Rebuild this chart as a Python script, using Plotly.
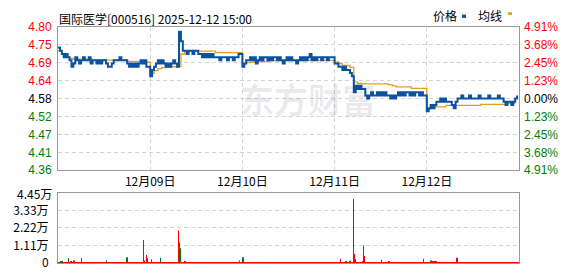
import plotly.graph_objects as go

# ---------------- data ----------------
title_text = "国际医学[000516] 2025-12-12 15:00"
day_labels = ["12月09日", "12月10日", "12月11日", "12月12日"]
prev_close = 4.58
max_pct = 4.91
price_tick_labels = ["4.80", "4.75", "4.69", "4.64", "4.58", "4.52", "4.47", "4.41", "4.36"]
pct_tick_labels = ["4.91%", "3.68%", "2.45%", "1.23%", "0.00%", "1.23%", "2.45%", "3.68%", "4.91%"]
vol_tick_values = [33375, 22250, 11125, 0]
vol_tick_labels = ["3.33万", "2.22万", "1.11万", "0"]
vol_max = 44500
vol_max_label = "4.45万"

minutes_per_day = 240
price_step = 5     # minutes per price sample
avg_step = 10      # minutes per average sample

# price, 5-minute samples, one list per trading day (12-08 .. 12-12)
price_d1 = [4.74, 4.73, 4.72, 4.71, 4.72, 4.71, 4.70, 4.68, 4.69, 4.71, 4.70, 4.69,
            4.70, 4.71, 4.70, 4.70, 4.71, 4.69, 4.70, 4.70, 4.69, 4.70, 4.69, 4.70,
            4.70, 4.69, 4.68, 4.68, 4.69, 4.70, 4.70, 4.70, 4.71, 4.70, 4.70, 4.70,
            4.69, 4.68, 4.69, 4.68, 4.69, 4.68, 4.69, 4.70, 4.69, 4.70, 4.68, 4.68]
price_d2 = [4.65, 4.67, 4.68, 4.69, 4.70, 4.69, 4.70, 4.69, 4.68, 4.69, 4.68, 4.69,
            4.70, 4.69, 4.68, 4.79, 4.76, 4.73, 4.73, 4.72, 4.73, 4.73, 4.72, 4.73,
            4.73, 4.72, 4.72, 4.71, 4.72, 4.71, 4.72, 4.71, 4.72, 4.71, 4.71, 4.71,
            4.70, 4.71, 4.71, 4.71, 4.70, 4.71, 4.71, 4.70, 4.71, 4.71, 4.72, 4.72]
price_d3 = [4.68, 4.69, 4.70, 4.70, 4.71, 4.70, 4.71, 4.69, 4.70, 4.71, 4.70, 4.71,
            4.71, 4.70, 4.71, 4.70, 4.71, 4.71, 4.70, 4.71, 4.70, 4.69, 4.70, 4.71,
            4.70, 4.71, 4.70, 4.70, 4.69, 4.70, 4.71, 4.70, 4.71, 4.70, 4.71, 4.72,
            4.70, 4.71, 4.70, 4.71, 4.71, 4.70, 4.71, 4.71, 4.70, 4.71, 4.71, 4.71]
price_d4 = [4.69, 4.69, 4.68, 4.68, 4.67, 4.68, 4.67, 4.67, 4.66, 4.65, 4.60, 4.62,
            4.61, 4.62, 4.61, 4.61, 4.59, 4.58, 4.59, 4.60, 4.59, 4.59, 4.60, 4.59,
            4.60, 4.59, 4.60, 4.59, 4.59, 4.58, 4.59, 4.58, 4.59, 4.60, 4.59, 4.60,
            4.59, 4.60, 4.60, 4.59, 4.60, 4.59, 4.60, 4.60, 4.59, 4.60, 4.59, 4.59]
price_d5 = [4.54, 4.55, 4.56, 4.55, 4.56, 4.57, 4.57, 4.58, 4.57, 4.58, 4.57, 4.57,
            4.57, 4.56, 4.55, 4.57, 4.58, 4.58, 4.59, 4.58, 4.58, 4.58, 4.59, 4.58,
            4.58, 4.58, 4.58, 4.59, 4.58, 4.58, 4.58, 4.58, 4.59, 4.58, 4.58, 4.58,
            4.58, 4.59, 4.58, 4.58, 4.57, 4.56, 4.57, 4.57, 4.56, 4.57, 4.58, 4.59]

# average price line, 10-minute samples
avg_d1 = [4.730, 4.720, 4.710, 4.706, 4.704, 4.704, 4.704, 4.704, 4.703, 4.701, 4.701, 4.701,
          4.701, 4.701, 4.701, 4.701, 4.701, 4.701, 4.697, 4.697, 4.697, 4.697, 4.697, 4.694]
avg_d2 = [4.659, 4.668, 4.674, 4.677, 4.679, 4.680, 4.680, 4.681, 4.720, 4.729, 4.729, 4.729,
          4.729, 4.729, 4.729, 4.729, 4.729, 4.724, 4.724, 4.724, 4.724, 4.724, 4.724, 4.724]
avg_d3 = [4.690, 4.693, 4.694, 4.694, 4.696, 4.696, 4.696, 4.699, 4.699, 4.699, 4.699, 4.699,
          4.699, 4.699, 4.699, 4.699, 4.699, 4.700, 4.700, 4.700, 4.700, 4.700, 4.700, 4.700]
avg_d4 = [4.695, 4.690, 4.684, 4.684, 4.678, 4.632, 4.628, 4.626, 4.626, 4.626, 4.626, 4.626,
          4.626, 4.626, 4.624, 4.620, 4.617, 4.617, 4.617, 4.617, 4.612, 4.612, 4.612, 4.612]
avg_d5 = [4.547, 4.554, 4.554, 4.554, 4.554, 4.559, 4.559, 4.559, 4.559, 4.559, 4.559, 4.559,
          4.559, 4.559, 4.562, 4.562, 4.562, 4.562, 4.562, 4.562, 4.562, 4.565, 4.565, 4.565]

# per-minute volume: notable bars (minute index from first open, shares, up=red)
vol_spike_minute = [8, 12, 27, 34, 42, 61, 127, 180, 222, 225, 230, 232, 244, 267,
                    313, 316, 318, 331, 472, 480, 482,
                    735, 750, 758, 761, 769, 771, 774, 792, 796, 797, 842, 862,
                    951, 969, 972, 976, 979, 984, 1039]
vol_spike_value = [1000, 800, 3000, 800, 1500, 3000, 1500, 3600, 14570, 1500, 5000, 2900, 2300, 3300,
                   20640, 12900, 9300, 600, 1500, 1000, 3600,
                   2600, 800, 800, 1500, 40860, 5600, 2500, 800, 11100, 4400, 2000, 800,
                   2600, 1500, 1500, 800, 800, 800, 3300]
vol_spike_up = [False, False, False, True, True, False, False, False, False, True, True, True, False, False,
                True, True, False, True, True, True, False,
                True, False, True, False, False, True, True, True, False, True, True, True,
                False, False, False, True, True, True, True]
vol_base = 150  # the thin baseline of tiny minute volumes

# ---------------- build series ----------------
price_days = [price_d1, price_d2, price_d3, price_d4, price_d5]
avg_days = [avg_d1, avg_d2, avg_d3, avg_d4, avg_d5]
n_days = len(price_days)
total_minutes = n_days * minutes_per_day

px_x, px_y = [], []
for d, day in enumerate(price_days):
    for k, v in enumerate(day):
        px_x.append(d * minutes_per_day + k * price_step)
        px_y.append(v)

av_x, av_y = [], []
for d, day in enumerate(avg_days):
    for k, v in enumerate(day):
        av_x.append(d * minutes_per_day + k * avg_step)
        av_y.append(v)

RED = "#ff0000"
GREEN = "#008000"
# baseline (red) trace + spike traces drawn on top
base_x = [m for m in range(total_minutes) if m not in vol_spike_minute]
base_y = [vol_base] * len(base_x)
red_x = [m for m, up in zip(vol_spike_minute, vol_spike_up) if up]
red_y = [v for v, up in zip(vol_spike_value, vol_spike_up) if up]
grn_x = [m for m, up in zip(vol_spike_minute, vol_spike_up) if not up]
grn_y = [v for v, up in zip(vol_spike_value, vol_spike_up) if not up]

# ---------------- figure ----------------
W, H = 578, 276
def px2x(p):
    return p / W
def px2y(p):
    return 1 - p / H

lo = prev_close * (1 - max_pct / 100)
hi = prev_close * (1 + max_pct / 100)
pct_vals = [max_pct * i / 4 for i in range(4, -5, -1)]
price_vals = [prev_close * (1 + p / 100) for p in pct_vals]

def colored(labels):
    out = []
    for i, t in enumerate(labels):
        c = RED if i < 4 else ("#000000" if i == 4 else GREEN)
        out.append('<span style="color:%s">%s</span>' % (c, t))
    return out

FONT = "Liberation Sans, Arial, sans-serif"
CJK = "SimSun, Noto Sans CJK SC, sans-serif"
GRID = "#d4d4d4"
BORDER = "#999999"
DASH = "4px,3px"

fig = go.Figure()
fig.add_trace(go.Scatter(x=av_x, y=av_y, mode="lines", xaxis="x", yaxis="y",
                         line=dict(color="#e0a020", width=1.3, shape="hv"),
                         hoverinfo="skip", showlegend=False))
fig.add_trace(go.Scatter(x=px_x, y=px_y, mode="lines", xaxis="x", yaxis="y",
                         line=dict(color="#0b52a0", width=2, shape="hv"),
                         showlegend=False))
fig.add_trace(go.Scatter(x=[0, total_minutes], y=[0, 0], mode="lines", xaxis="x", yaxis="y2",
                         line=dict(width=0), opacity=0, hoverinfo="skip", showlegend=False))
for bx, by, bc in [(base_x, base_y, RED), (red_x, red_y, RED), (grn_x, grn_y, GREEN)]:
    fig.add_trace(go.Bar(x=bx, y=by, xaxis="x2", yaxis="y3", width=1,
                         marker=dict(color=bc, line=dict(width=0)), showlegend=False))

xdom = [px2x(58), px2x(519)]
fig.update_layout(
    width=W, height=H, margin=dict(l=0, r=0, t=0, b=0),
    paper_bgcolor="white", plot_bgcolor="white", barmode="overlay",
    font=dict(family=FONT, size=12, color="#000000"),
    xaxis=dict(domain=xdom, anchor="y", range=[0, total_minutes],
               tickvals=[minutes_per_day * i for i in range(1, n_days)],
               ticktext=day_labels, tickfont=dict(family=CJK, size=12),
               showgrid=True, gridcolor=GRID, griddash=DASH, gridwidth=1,
               showline=True, mirror=True, linecolor=BORDER, linewidth=1,
               ticks="", zeroline=False, fixedrange=True),
    yaxis=dict(domain=[px2y(172), px2y(21)], anchor="x", range=[lo, hi],
               tickvals=price_vals, ticktext=colored(price_tick_labels),
               showgrid=True, gridcolor=GRID, griddash=DASH, gridwidth=1,
               showline=True, mirror=True, linecolor=BORDER, linewidth=1,
               ticks="", zeroline=False, ticklabelstandoff=3),
    yaxis2=dict(overlaying="y", side="right", anchor="x", range=[-max_pct, max_pct],
                tickvals=pct_vals, ticktext=colored(pct_tick_labels),
                showgrid=False, showline=False, zeroline=False, ticks="",
                ticklabelstandoff=4),
    xaxis2=dict(domain=xdom, anchor="y3", range=[0, total_minutes],
                showticklabels=False, showgrid=False, ticks="",
                showline=True, mirror=True, linecolor=BORDER, linewidth=1,
                zeroline=False, layer="below traces"),
    yaxis3=dict(domain=[px2y(269.5), px2y(196)], anchor="x2", range=[0, vol_max],
                tickvals=vol_tick_values, ticktext=vol_tick_labels,
                showgrid=True, gridcolor=GRID, griddash=DASH, gridwidth=1,
                showline=True, mirror=True, linecolor=BORDER, linewidth=1,
                ticks="", zeroline=False, ticklabelstandoff=6,
                tickfont=dict(family=CJK, size=12), layer="below traces"),
)

ann = [
    dict(text=title_text, x=px2x(57), y=px2y(1), xanchor="left", yanchor="top",
         font=dict(family=CJK, size=12, color="#000000")),
    dict(text="价格", x=px2x(431), y=px2y(9), xanchor="left", yanchor="middle",
         font=dict(family=CJK, size=12, color="#000000")),
    dict(text="均线", x=px2x(476), y=px2y(9), xanchor="left", yanchor="middle",
         font=dict(family=CJK, size=12, color="#000000")),
    dict(text=vol_max_label, x=px2x(52.5), y=px2y(196.5), xanchor="right", yanchor="middle",
         borderpad=0, font=dict(family=CJK, size=12, color="#000000")),
    dict(text="<b>东方财富</b>", x=px2x(308), y=px2y(96), xanchor="center", yanchor="middle",
         font=dict(family="Noto Sans CJK SC, sans-serif", size=34, color="rgba(40,40,80,0.09)")),
]
for a in ann:
    a.update(xref="paper", yref="paper", showarrow=False)
fig.update_layout(annotations=ann)

fig.update_layout(shapes=[
    dict(type="rect", xref="paper", yref="paper", x0=px2x(462), x1=px2x(466),
         y0=px2y(11.5), y1=px2y(8), fillcolor="#0b52a0", line=dict(width=0)),
    dict(type="rect", xref="paper", yref="paper", x0=px2x(508), x1=px2x(512),
         y0=px2y(8.5), y1=px2y(5.5), fillcolor="#e0a020", line=dict(width=0)),
])

fig.write_html("out.html")
